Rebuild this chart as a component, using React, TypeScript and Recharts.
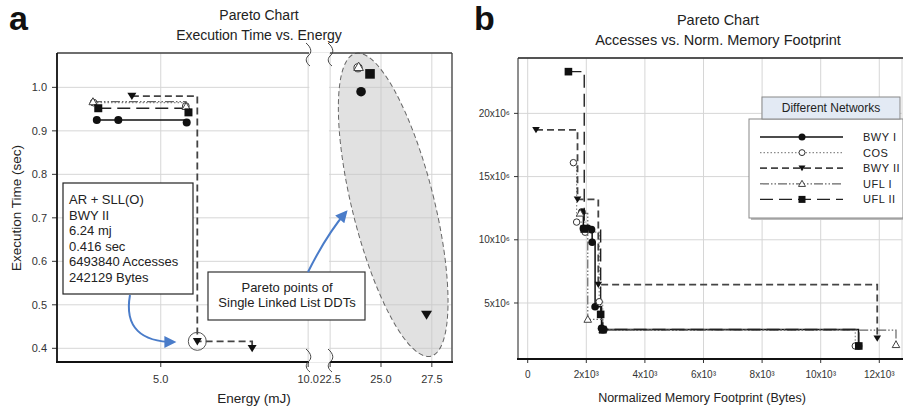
import React from "react";
import {
  ComposedChart,
  Line,
  Scatter,
  XAxis,
  YAxis,
  CartesianGrid,
  ReferenceArea,
  ReferenceDot,
} from "recharts";

const FONT = "'Liberation Sans', Arial, Helvetica, sans-serif";

// ---- panel a: energy (mJ) vs execution time (sec)
const bwy1A = [{ e: 2.83, t: 0.925 }, { e: 3.56, t: 0.925 }, { e: 5.88, t: 0.919 }];
const cosA = [{ e: 2.72, t: 0.965 }, { e: 5.85, t: 0.957 }];
const bwy2A = [{ e: 4.02, t: 0.98 }, { e: 6.24, t: 0.416 }, { e: 8.1, t: 0.4 }];
const ufl1A = [{ e: 2.7, t: 0.967 }, { e: 5.86, t: 0.956 }];
const ufl2A = [{ e: 2.88, t: 0.952 }, { e: 5.94, t: 0.9425 }];
// single linked list DDTs (right of the axis break)
const sllBwy1 = [{ e: 24.02, t: 0.99 }];
const sllCos = [{ e: 23.87, t: 1.045 }];
const sllUfl1 = [{ e: 23.9, t: 1.047 }];
const sllUfl2 = [{ e: 24.46, t: 1.031 }];
const sllBwy2 = [{ e: 27.24, t: 0.477 }];

const energyTicks = [5, 10, 22.5, 25, 27.5];
const timeTicks = [0.4, 0.5, 0.6, 0.7, 0.8, 0.9, 1.0];
const noteLines = ["AR + SLL(O)", "BWY II", "6.24 mj", "0.416 sec", "6493840 Accesses", "242129 Bytes"];

// ---- panel b: normalized memory footprint (bytes) vs accesses
const bwy1B = [
  { m: 1850, a: 12.2e6 }, { m: 1900, a: 10.9e6 }, { m: 2050, a: 10.9e6 }, { m: 2180, a: 10.8e6 },
  { m: 2200, a: 9.8e6 }, { m: 2300, a: 4.7e6 }, { m: 2520, a: 3.0e6 }, { m: 2600, a: 2.9e6 },
  { m: 11290, a: 1.6e6 },
];
const cosB = [
  { m: 1560, a: 16.1e6 }, { m: 1670, a: 11.4e6 }, { m: 1960, a: 10.6e6 }, { m: 2440, a: 5.1e6 },
  { m: 2560, a: 2.85e6 }, { m: 11180, a: 1.6e6 },
];
const bwy2B = [{ m: 283, a: 18.7e6 }, { m: 1700, a: 13.2e6 }, { m: 2410, a: 6.45e6 }, { m: 11930, a: 2.2e6 }];
const ufl1B = [{ m: 1790, a: 12.1e6 }, { m: 2050, a: 3.7e6 }, { m: 2560, a: 2.85e6 }, { m: 12570, a: 1.7e6 }];
const ufl2B = [
  { m: 1390, a: 23.3e6 }, { m: 1930, a: 10.85e6 }, { m: 2490, a: 4.1e6 }, { m: 2560, a: 2.9e6 },
  { m: 11300, a: 1.6e6 },
];
const memTicks = [0, 2000, 4000, 6000, 8000, 10000, 12000];
const accTicks = [5e6, 10e6, 15e6, 20e6];
const networks = ["BWY I", "COS", "BWY II", "UFL I", "UFL II"];

// broken energy axis: 10.0 .. 22.5 squeezed out
const BREAK_LO = 10;
const BREAK_HI = 22.5;
const GAP = 0.746;
const RIGHT_SCALE = 0.69;
const brk = (e: number) => (e <= BREAK_LO ? e : BREAK_LO + GAP + (e - BREAK_HI) * RIGHT_SCALE);
const toA = (pts: { e: number; t: number }[]) => pts.map((p) => ({ x: brk(p.e), y: p.t }));

type Kind = "dot" | "ring" | "down" | "up" | "square";

const STYLE: Record<string, { kind: Kind; stroke: string; width: number; dash?: string }> = {
  "BWY I": { kind: "dot", stroke: "#111", width: 1.5 },
  COS: { kind: "ring", stroke: "#8a8a8a", width: 1.2, dash: "1.5 2" },
  "BWY II": { kind: "down", stroke: "#444", width: 1.8, dash: "7 4" },
  "UFL I": { kind: "up", stroke: "#666", width: 1.2, dash: "9 2 1.5 2 1.5 2" },
  "UFL II": { kind: "square", stroke: "#222", width: 1.4, dash: "13 6" },
};

function Marker({ cx, cy, kind, s }: { cx: number; cy: number; kind: Kind; s: number }) {
  if (cx == null || cy == null) return null;
  switch (kind) {
    case "dot":
      return <circle cx={cx} cy={cy} r={s} fill="#111" />;
    case "ring":
      return <circle cx={cx} cy={cy} r={s * 0.85} fill="#fff" stroke="#333" strokeWidth={1} />;
    case "down":
      return <path d={`M${cx - s},${cy - s * 0.75} L${cx + s},${cy - s * 0.75} L${cx},${cy + s * 0.9} Z`} fill="#111" />;
    case "up":
      return (
        <path
          d={`M${cx},${cy - s} L${cx + s},${cy + s * 0.75} L${cx - s},${cy + s * 0.75} Z`}
          fill="#fff"
          stroke="#444"
          strokeWidth={1}
        />
      );
    default:
      return <rect x={cx - s} y={cy - s} width={2 * s} height={2 * s} fill="#111" />;
  }
}

const dotOf = (kind: Kind, s: number) => (p: any) =>
  <Marker key={`d-${kind}-${p.index}`} cx={p.cx} cy={p.cy} kind={kind} s={s} />;
const shapeOf = (kind: Kind, s: number) => (p: any) => <Marker cx={p.cx} cy={p.cy} kind={kind} s={s} />;

const labelA = (v: number) => {
  const t = energyTicks.find((k) => Math.abs(brk(k) - v) < 1e-6);
  return t == null ? "" : t.toFixed(1);
};

function Squiggle({ x, y }: { x: number; y: number }) {
  return (
    <path
      d={`M${x - 2},${y} C${x + 4},${y + 5} ${x + 4},${y + 10} ${x},${y + 13} C${x - 3},${y + 16} ${x - 2},${y + 20} ${x + 2},${y + 23}`}
      fill="none"
      stroke="#444"
      strokeWidth={1}
    />
  );
}

function PanelA() {
  const series: [string, { e: number; t: number }[]][] = [
    ["BWY I", bwy1A],
    ["COS", cosA],
    ["UFL I", ufl1A],
    ["UFL II", ufl2A],
    ["BWY II", bwy2A],
  ];
  const sll: [string, { e: number; t: number }[]][] = [
    ["BWY I", sllBwy1],
    ["COS", sllCos],
    ["UFL I", sllUfl1],
    ["UFL II", sllUfl2],
    ["BWY II", sllBwy2],
  ];
  return (
    <ComposedChart width={460} height={409} margin={{ top: 53, right: 8, bottom: 17, left: 17 }}>
      <CartesianGrid stroke="#d6d6d6" strokeWidth={1} />
      <XAxis
        type="number"
        dataKey="x"
        domain={[1.48, 14.88]}
        allowDataOverflow
        ticks={energyTicks.map(brk)}
        interval={0}
        tickFormatter={labelA}
        axisLine={false}
        tickLine={{ stroke: "#333" }}
        tickSize={5}
        tickMargin={8}
        height={30}
        tick={{ fontSize: 11, fill: "#333", fontFamily: FONT }}
      />
      <YAxis
        type="number"
        domain={[0.3685, 1.079]}
        allowDataOverflow
        ticks={timeTicks}
        interval={0}
        tickFormatter={(v: number) => v.toFixed(1)}
        axisLine={false}
        tickLine={{ stroke: "#333" }}
        tickSize={5}
        tickMargin={5}
        width={40}
        tick={{ fontSize: 11, fill: "#333", fontFamily: FONT }}
      />
      <ReferenceArea
        x1={brk(BREAK_LO) + 0.04}
        x2={brk(BREAK_HI) - 0.04}
        y1={0.3685}
        y2={1.079}
        fill="#fff"
        fillOpacity={1}
        stroke="none"
      />
      <ReferenceArea
        x1={brk(25.5)}
        x2={brk(25.7)}
        y1={0.72}
        y2={0.74}
        shape={(p: any) => {
          const cx = p.x + p.width / 2;
          const cy = p.y + p.height / 2;
          return (
            <ellipse
              cx={cx}
              cy={cy}
              rx={41}
              ry={156}
              transform={`rotate(-14 ${cx} ${cy})`}
              fill="#c4c4c4"
              fillOpacity={0.5}
              stroke="#666"
              strokeWidth={1}
              strokeDasharray="5 3"
            />
          );
        }}
      />
      <ReferenceDot x={brk(6.24)} y={0.416} r={9} fill="none" stroke="#555" strokeWidth={1} />
      {series.map(([name, pts]) => {
        const st = STYLE[name];
        return (
          <Line
            key={name}
            data={toA(pts)}
            dataKey="y"
            type="stepAfter"
            stroke={st.stroke}
            strokeWidth={st.width}
            strokeDasharray={st.dash}
            dot={dotOf(st.kind, st.kind === "down" ? 4.5 : 4)}
            activeDot={false}
            isAnimationActive={false}
          />
        );
      })}
      {sll.map(([name, pts]) => (
        <Scatter
          key={`sll-${name}`}
          data={toA(pts)}
          dataKey="y"
          shape={shapeOf(STYLE[name].kind, name === "BWY II" ? 5.5 : 4.8)}
          isAnimationActive={false}
        />
      ))}
    </ComposedChart>
  );
}

function PanelB() {
  const series: [string, { m: number; a: number }[]][] = [
    ["BWY I", bwy1B],
    ["COS", cosB],
    ["UFL I", ufl1B],
    ["BWY II", bwy2B],
    ["UFL II", ufl2B],
  ];
  return (
    <ComposedChart width={443} height={409} margin={{ top: 58, right: 1, bottom: 20, left: 8 }}>
      <CartesianGrid stroke="#d6d6d6" strokeWidth={1} />
      <XAxis
        type="number"
        dataKey="m"
        domain={[-331, 12775]}
        allowDataOverflow
        ticks={memTicks}
        interval={0}
        tickFormatter={(v: number) => (v === 0 ? "0" : `${v / 1000}x10³`)}
        axisLine={false}
        tickLine={{ stroke: "#333" }}
        tickSize={4}
        tickMargin={8}
        height={30}
        tick={{ fontSize: 10, fill: "#333", fontFamily: FONT }}
      />
      <YAxis
        type="number"
        domain={[0.57e6, 24.38e6]}
        allowDataOverflow
        ticks={accTicks}
        interval={0}
        tickFormatter={(v: number) => `${v / 1e6}x10⁶`}
        axisLine={false}
        tickLine={{ stroke: "#333" }}
        tickSize={4}
        tickMargin={4}
        width={50}
        tick={{ fontSize: 10, fill: "#333", fontFamily: FONT }}
      />
      {series.map(([name, pts]) => {
        const st = STYLE[name];
        return (
          <Line
            key={name}
            data={pts}
            dataKey="a"
            type="stepAfter"
            stroke={st.stroke}
            strokeWidth={st.width}
            strokeDasharray={st.dash}
            dot={dotOf(st.kind, 3.8)}
            activeDot={false}
            isAnimationActive={false}
          />
        );
      })}
    </ComposedChart>
  );
}

function Overlay() {
  const txt = { fontFamily: FONT, fill: "#222" };
  return (
    <svg width={903} height={409} style={{ position: "absolute", left: 0, top: 0, pointerEvents: "none" }}>
      <defs>
        <marker id="blueHead" viewBox="0 0 10 10" refX="8" refY="5" markerWidth="7" markerHeight="6" orient="auto">
          <path d="M0,0 L10,5 L0,10 Z" fill="#4a7cc9" />
        </marker>
      </defs>

      {/* panel labels and titles */}
      <text x={9} y={30} fontSize={34} fontWeight="bold" {...txt} fill="#111">a</text>
      <text x={474} y={30} fontSize={34} fontWeight="bold" {...txt} fill="#111">b</text>
      <text x={259} y={20} fontSize={14} textAnchor="middle" {...txt}>Pareto Chart</text>
      <text x={259} y={40} fontSize={14} textAnchor="middle" {...txt}>Execution Time vs. Energy</text>
      <text x={718} y={25} fontSize={14.5} textAnchor="middle" {...txt}>Pareto Chart</text>
      <text x={718} y={45} fontSize={14.5} textAnchor="middle" {...txt}>Accesses vs. Norm. Memory Footprint</text>

      {/* axis titles */}
      <text x={254} y={403} fontSize={13.5} textAnchor="middle" {...txt}>Energy (mJ)</text>
      <text x={0} y={0} fontSize={13.5} textAnchor="middle" transform="translate(21 208) rotate(-90)" {...txt}>
        Execution Time (sec)
      </text>
      <text x={702} y={402} fontSize={12.5} textAnchor="middle" {...txt}>Normalized Memory Footprint (Bytes)</text>

      {/* panel a frame with axis break */}
      <line x1={57} y1={53} x2={309} y2={53} stroke="#444" strokeWidth={1.3} />
      <line x1={330} y1={53} x2={452} y2={53} stroke="#444" strokeWidth={1.3} />
      <line x1={452} y1={53} x2={452} y2={362} stroke="#444" strokeWidth={1.3} />
      <line x1={57} y1={53} x2={57} y2={362} stroke="#111" strokeWidth={1.8} />
      <line x1={56} y1={362} x2={309} y2={362} stroke="#111" strokeWidth={2} />
      <line x1={330} y1={362} x2={453} y2={362} stroke="#111" strokeWidth={2} />
      <Squiggle x={308} y={43} />
      <Squiggle x={330} y={43} />
      <Squiggle x={308} y={349} />
      <Squiggle x={330} y={349} />

      {/* annotation boxes */}
      <rect x={63} y={183} width={130} height={111} fill="#fff" stroke="#222" strokeWidth={1.2} />
      {noteLines.map((l, i) => (
        <text key={l} x={69} y={204 + i * 15.6} fontSize={13} {...txt}>{l}</text>
      ))}
      <rect x={208} y={272} width={157} height={48} fill="#fff" stroke="#333" strokeWidth={1.2} />
      <text x={287} y={292} fontSize={13} textAnchor="middle" {...txt}>Pareto points of</text>
      <text x={287} y={307} fontSize={13} textAnchor="middle" {...txt}>Single Linked List DDTs</text>
      <path d="M130,295 C124,328 142,342 174,342" fill="none" stroke="#4a7cc9" strokeWidth={2} markerEnd="url(#blueHead)" />
      <path d="M308,272 C320,248 334,226 346,212" fill="none" stroke="#4a7cc9" strokeWidth={2} markerEnd="url(#blueHead)" />

      {/* panel b frame */}
      <line x1={518} y1={58} x2={903} y2={58} stroke="#222" strokeWidth={1.3} />
      <line x1={518} y1={58} x2={518} y2={359} stroke="#333" strokeWidth={1} />
      <line x1={517} y1={359} x2={903} y2={359} stroke="#111" strokeWidth={2} />

      {/* panel b legend */}
      <rect x={751} y={121} width={154} height={99} fill="#bbb" />
      <rect x={749} y={119} width={154} height={99} fill="#fff" stroke="#888" strokeWidth={1} />
      <rect x={762} y={97} width={138} height={22} fill="#e3eaf4" stroke="#888" strokeWidth={1} />
      <text x={831} y={112} fontSize={12} textAnchor="middle" {...txt}>Different Networks</text>
      {networks.map((n, i) => {
        const st = STYLE[n];
        const y = 137 + i * 15.6;
        return (
          <g key={n}>
            <line x1={760} y1={y} x2={843} y2={y} stroke={st.stroke} strokeWidth={st.width} strokeDasharray={st.dash} />
            <Marker cx={802} cy={y} kind={st.kind} s={3.5} />
            <text x={863} y={y + 4} fontSize={11} letterSpacing={0.5} {...txt}>{n}</text>
          </g>
        );
      })}
    </svg>
  );
}

export default function App() {
  return (
    <div style={{ position: "absolute", left: 0, top: 0, width: 903, height: 409, background: "#fff", fontFamily: FONT }}>
      <div style={{ position: "absolute", left: 0, top: 0 }}>
        <PanelA />
      </div>
      <div style={{ position: "absolute", left: 460, top: 0 }}>
        <PanelB />
      </div>
      <Overlay />
    </div>
  );
}
